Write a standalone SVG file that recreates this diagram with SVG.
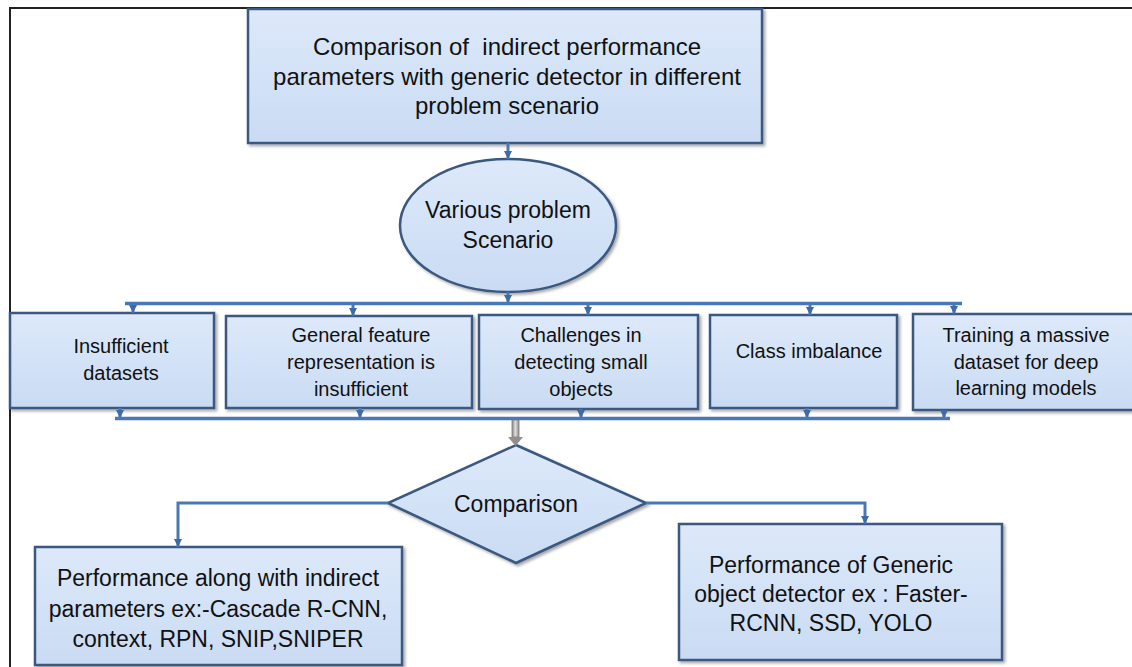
<svg xmlns="http://www.w3.org/2000/svg" width="1132" height="667" viewBox="0 0 1132 667">
<defs>
<linearGradient id="fillg" x1="0" y1="0" x2="0" y2="1">
<stop offset="0" stop-color="#dde9fa"/>
<stop offset="1" stop-color="#c9dbf3"/>
</linearGradient>
<linearGradient id="grayg" x1="0" y1="0" x2="1" y2="0">
<stop offset="0" stop-color="#8c8c8c"/>
<stop offset="0.5" stop-color="#dcdcdc"/>
<stop offset="1" stop-color="#8c8c8c"/>
</linearGradient>
<filter id="sh" x="-5%" y="-5%" width="112%" height="115%">
<feDropShadow dx="2" dy="2" stdDeviation="1.5" flood-color="#000" flood-opacity="0.35"/>
</filter>
<marker id="ah" markerUnits="userSpaceOnUse" markerWidth="9" markerHeight="8" viewBox="0 0 10 10" refX="10" refY="5" orient="auto">
<path d="M0,0 L10,5 L0,10 z" fill="#3e6aa6"/>
</marker>
</defs>
<style>
.box{fill:url(#fillg);stroke:#3a5880;stroke-width:2.5;filter:url(#sh)}
.t{font-family:"Liberation Sans",Arial,sans-serif;fill:#111;text-anchor:middle}
.t24{font-size:24px}
.t23{font-size:23px}
.t20{font-size:20px}
.c{fill:none;stroke:#4a78b6;stroke-width:3.5}
.ca{fill:none;stroke:#4a78b6;stroke-width:3;marker-end:url(#ah)}
</style>
<rect x="0" y="0" width="1132" height="667" fill="#fff"/>
<rect x="10" y="8" width="1140" height="680" fill="none" stroke="#222" stroke-width="2"/>

<g id="node-title">
<rect class="box" x="248" y="9" width="514" height="134"/>
<text class="t t24" x="507" y="55" style="white-space:pre">Comparison of  indirect performance</text>
<text class="t t24" x="507" y="85">parameters with generic detector in different</text>
<text class="t t24" x="507" y="114">problem scenario</text>
</g>

<g id="node-scenario">
<ellipse class="box" cx="508" cy="225.5" rx="108" ry="66.5"/>
<text class="t t23" x="508" y="218">Various problem</text>
<text class="t t23" x="508" y="248">Scenario</text>
</g>

<g id="node-insufficient-datasets">
<rect class="box" x="10" y="313" width="204" height="95"/>
<text class="t t20" x="121" y="353">Insufficient</text>
<text class="t t20" x="121" y="380">datasets</text>
</g>

<g id="node-general-feature">
<rect class="box" x="226" y="316" width="246" height="92"/>
<text class="t t20" x="361" y="342">General feature</text>
<text class="t t20" x="361" y="369">representation is</text>
<text class="t t20" x="361" y="396">insufficient</text>
</g>

<g id="node-small-objects">
<rect class="box" x="479" y="315" width="219" height="94"/>
<text class="t t20" x="581" y="342">Challenges in</text>
<text class="t t20" x="581" y="369">detecting small</text>
<text class="t t20" x="581" y="396">objects</text>
</g>

<g id="node-class-imbalance">
<rect class="box" x="710" y="315" width="187" height="93"/>
<text class="t t20" x="809" y="358">Class imbalance</text>
</g>

<g id="node-massive-dataset">
<rect class="box" x="913" y="314" width="240" height="96"/>
<text class="t t20" x="1026" y="342">Training a massive</text>
<text class="t t20" x="1026" y="369">dataset for deep</text>
<text class="t t20" x="1026" y="395">learning models</text>
</g>

<g id="node-comparison">
<polygon class="box" points="516,445 646,503 516,563 388,503"/>
<text class="t t23" x="516" y="512">Comparison</text>
</g>

<g id="node-indirect">
<rect class="box" x="35" y="547" width="367" height="118"/>
<text class="t t23" x="218" y="586">Performance along with indirect</text>
<text class="t t23" x="218" y="617">parameters ex:-Cascade R-CNN,</text>
<text class="t t23" x="218" y="647">context, RPN, SNIP,SNIPER</text>
</g>

<g id="node-generic">
<rect class="box" x="679" y="524" width="323" height="136"/>
<text class="t t23" x="831" y="573">Performance of Generic</text>
<text class="t t23" x="831" y="602">object detector ex : Faster-</text>
<text class="t t23" x="831" y="631">RCNN, SSD, YOLO</text>
</g>

<g id="connectors">
<line class="ca" x1="508" y1="143" x2="508" y2="159"/>
<line class="ca" x1="508" y1="292" x2="508" y2="303"/>
<line class="c" x1="125" y1="303.5" x2="962" y2="303.5"/>
<line class="ca" x1="133" y1="303" x2="133" y2="313"/>
<line class="ca" x1="353" y1="303" x2="353" y2="316"/>
<line class="ca" x1="588" y1="303" x2="588" y2="315"/>
<line class="ca" x1="810" y1="303" x2="810" y2="315"/>
<line class="ca" x1="954" y1="303" x2="954" y2="314"/>
<line class="ca" x1="120" y1="408" x2="120" y2="418"/>
<line class="ca" x1="360" y1="408" x2="360" y2="418"/>
<line class="ca" x1="581" y1="409" x2="581" y2="418"/>
<line class="ca" x1="807" y1="408" x2="807" y2="418"/>
<line class="ca" x1="944" y1="410" x2="944" y2="418"/>
<line class="c" x1="115" y1="418.5" x2="950" y2="418.5"/>
<g id="gray-arrow">
<rect x="512" y="420" width="7" height="17" fill="url(#grayg)" stroke="#7a7a7a" stroke-width="0.8"/>
<polygon points="508,437 523,437 515.5,446" fill="#8f8f8f"/>
</g>
<polyline class="ca" points="388,503 178,503 178,547"/>
<polyline class="ca" points="646,503 865,503 865,524"/>
</g>
</svg>
